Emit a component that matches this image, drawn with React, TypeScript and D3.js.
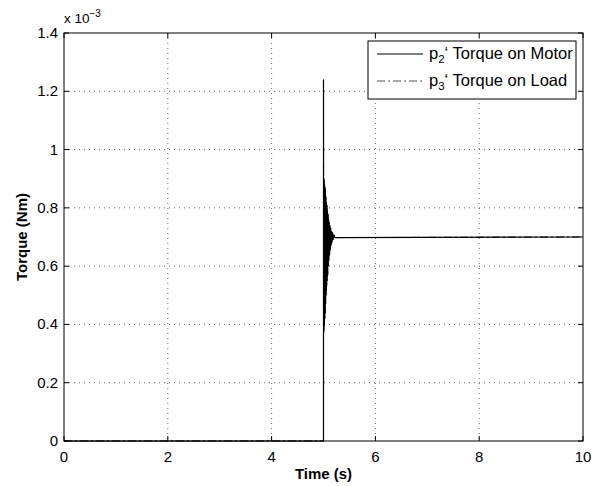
import React from "react";
import * as d3 from "d3";

const timeTicks = [0, 2, 4, 6, 8, 10];
const torqueTicks = [0, 0.2, 0.4, 0.6, 0.8, 1, 1.2, 1.4];
const torqueTickLabels = ["0", "0.2", "0.4", "0.6", "0.8", "1", "1.2", "1.4"];

// time (s)
const motorTime = [
  0, 5.0, 5.0, 5.003, 5.006, 5.009, 5.012, 5.016, 5.02, 5.024, 5.028, 5.032,
  5.036, 5.04, 5.045, 5.05, 5.055, 5.06, 5.065, 5.07, 5.075, 5.08, 5.086,
  5.092, 5.098, 5.104, 5.11, 5.117, 5.124, 5.131, 5.138, 5.146, 5.154, 5.162,
  5.172, 5.185, 5.2, 5.22, 10,
];
// torque (x 1e-3 Nm)
const motorTorque = [
  0, 0, 1.24, 0.37, 0.9, 0.38, 0.89, 0.4, 0.88, 0.42, 0.87, 0.44, 0.86, 0.47,
  0.84, 0.5, 0.82, 0.53, 0.81, 0.55, 0.79, 0.57, 0.78, 0.6, 0.76, 0.62, 0.75,
  0.64, 0.74, 0.655, 0.73, 0.67, 0.72, 0.68, 0.715, 0.69, 0.708, 0.698, 0.7,
];
const loadTime = motorTime;
const loadTorque = motorTorque;

const W = 601;
const H = 486;
const L = 64;
const R = 583;
const T = 33;
const B = 441;

export default function App() {
  const x = d3.scaleLinear().domain([0, 10]).range([L, R]);
  const y = d3.scaleLinear().domain([0, 1.4]).range([B, T]);
  const line = d3
    .line<number>()
    .x((_, i) => x(motorTime[i]))
    .y((d) => y(d));
  const lineLoad = d3
    .line<number>()
    .x((_, i) => x(loadTime[i]))
    .y((d) => y(d));
  const font = "'Liberation Sans', Arial, Helvetica, sans-serif";
  return (
    <svg
      width={W}
      height={H}
      style={{ position: "absolute", left: 0, top: 0 }}
      fontFamily={font}
    >
      <rect x={0} y={0} width={W} height={H} fill="#fff" />
      {/* grid */}
      {timeTicks.slice(1, -1).map((t) => (
        <line
          key={"gx" + t}
          x1={x(t)}
          x2={x(t)}
          y1={T}
          y2={B}
          stroke="#000"
          strokeWidth={0.6}
          strokeDasharray="1 4"
        />
      ))}
      {torqueTicks.slice(1, -1).map((t) => (
        <line
          key={"gy" + t}
          x1={L}
          x2={R}
          y1={y(t)}
          y2={y(t)}
          stroke="#000"
          strokeWidth={0.6}
          strokeDasharray="1 4"
        />
      ))}
      {/* data */}
      <path
        d={lineLoad(loadTorque) || ""}
        fill="none"
        stroke="#000"
        strokeWidth={1}
        strokeDasharray="8 3 2 3"
      />
      <path d={line(motorTorque) || ""} fill="none" stroke="#000" strokeWidth={1.2} />
      {/* ticks */}
      {timeTicks.map((t) => (
        <g key={"tx" + t}>
          <line x1={x(t)} x2={x(t)} y1={B} y2={B - 5} stroke="#000" />
          <line x1={x(t)} x2={x(t)} y1={T} y2={T + 5} stroke="#000" />
          <text x={x(t)} y={B + 21} fontSize={15} textAnchor="middle" fill="#000">
            {t}
          </text>
        </g>
      ))}
      {torqueTicks.map((t, i) => (
        <g key={"ty" + t}>
          <line x1={L} x2={L + 5} y1={y(t)} y2={y(t)} stroke="#000" />
          <line x1={R} x2={R - 5} y1={y(t)} y2={y(t)} stroke="#000" />
          <text
            x={L - 6}
            y={y(t) + 5}
            fontSize={15}
            textAnchor="end"
            fill="#000"
          >
            {torqueTickLabels[i]}
          </text>
        </g>
      ))}
      {/* frame */}
      <rect x={L} y={T} width={R - L} height={B - T} fill="none" stroke="#000" strokeWidth={1} />
      {/* exponent */}
      <text x={L} y={T - 10} fontSize={13.5} fill="#000">
        x 10
        <tspan dy={-6} fontSize={10}>
          −3
        </tspan>
      </text>
      {/* axis labels */}
      <text
        x={(L + R) / 2}
        y={479}
        fontSize={15}
        fontWeight="bold"
        textAnchor="middle"
        fill="#000"
      >
        Time (s)
      </text>
      <text
        transform={`translate(27, ${(T + B) / 2}) rotate(-90)`}
        fontSize={15}
        fontWeight="bold"
        textAnchor="middle"
        fill="#000"
      >
        Torque (Nm)
      </text>
      {/* legend */}
      <rect x={368} y={41} width={208} height={58} fill="#fff" stroke="#000" strokeWidth={1} />
      <line x1={377} x2={423} y1={54} y2={54} stroke="#000" strokeWidth={1} />
      <line
        x1={377}
        x2={423}
        y1={81}
        y2={81}
        stroke="#555"
        strokeWidth={1}
        strokeDasharray="8 3 2 3"
      />
      <text x={429} y={59} fontSize={16.5} fill="#000">
        p<tspan dy={4} fontSize={11.5}>2</tspan>
        <tspan dy={-4}>‘ Torque on Motor</tspan>
      </text>
      <text x={429} y={86} fontSize={16.5} fill="#000">
        p<tspan dy={4} fontSize={11.5}>3</tspan>
        <tspan dy={-4}>‘ Torque on Load</tspan>
      </text>
    </svg>
  );
}
